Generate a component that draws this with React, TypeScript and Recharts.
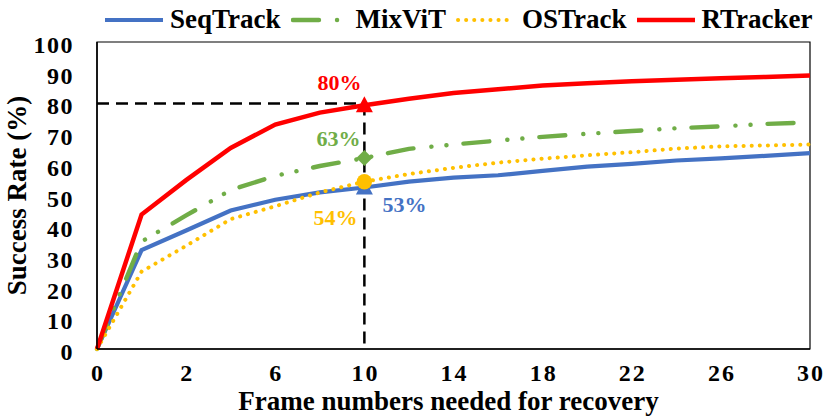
import React from 'react';
import { LineChart, Line, XAxis, YAxis, ReferenceLine, ReferenceArea, Legend, Label } from 'recharts';

const frames = [0, 1, 2, 4, 6, 8, 10, 12, 14, 16, 18, 20, 22, 24, 26, 28, 30];
const seqTrack = [0, 32.2, 38.6, 45.1, 48.6, 51.0, 52.6, 54.5, 55.8, 56.6, 58.0, 59.4, 60.3, 61.4, 62.1, 62.9, 63.8];
const mixViT = [0, 35.0, 43.5, 51.8, 56.4, 59.6, 62.2, 65.2, 66.6, 67.9, 69.1, 70.1, 71.0, 71.9, 72.5, 73.3, 73.8];
const osTrack = [0, 25.2, 33.6, 42.3, 46.5, 51.0, 54.5, 57.0, 59.0, 60.7, 62.0, 63.1, 64.1, 65.3, 66.0, 66.3, 66.6];
const rTracker = [0, 43.8, 55.0, 65.5, 73.1, 77.0, 79.4, 81.5, 83.4, 84.6, 85.8, 86.6, 87.2, 87.7, 88.2, 88.6, 89.1];
const yTicks = [0, 10, 20, 30, 40, 50, 60, 70, 80, 90, 100];
const highlightFrame = 10;
const highlightRate = 80;
const labelTexts = { SeqTrack: '53%', MixViT: '63%', OSTrack: '54%', RTracker: '80%' };

const data = frames.map((f, i) => ({
  frame: f,
  SeqTrack: seqTrack[i],
  MixViT: mixViT[i],
  OSTrack: osTrack[i],
  RTracker: rTracker[i],
}));

const FONT = "'Liberation Serif', 'Times New Roman', serif";

type SeriesStyle = {
  key: 'SeqTrack' | 'MixViT' | 'OSTrack' | 'RTracker';
  color: string;
  width: number;
  dash?: string;
  cap: 'round' | 'butt';
  marker: 'triangle' | 'diamond' | 'circle';
  labelDx: number;
  labelDy: number;
  legendWidth: number;
  legendTextGap: number;
};

const series: SeriesStyle[] = [
  { key: 'SeqTrack', color: '#4472C4', width: 4.2, cap: 'butt', marker: 'triangle', labelDx: 40, labelDy: 17, legendWidth: 58, legendTextGap: 7 },
  { key: 'MixViT', color: '#70AD47', width: 4.4, dash: '26 18 0.1 15 0.1 17', cap: 'round', marker: 'diamond', labelDx: -26, labelDy: -20, legendWidth: 50, legendTextGap: 15 },
  { key: 'OSTrack', color: '#FFC000', width: 4, dash: '0.1 8', cap: 'round', marker: 'circle', labelDx: -29, labelDy: 36, legendWidth: 59, legendTextGap: 7 },
  { key: 'RTracker', color: '#FF0000', width: 4.5, cap: 'butt', marker: 'triangle', labelDx: -25, labelDy: -23, legendWidth: 58, legendTextGap: 7 },
];

const makeDot = (s: SeriesStyle) => (props: any) => {
  const { cx, cy, index } = props;
  const k = `dot-${s.key}-${index}`;
  if (frames[index] !== highlightFrame || cx == null || cy == null) return <g key={k} />;
  let shape: React.ReactNode;
  if (s.marker === 'triangle') {
    shape = <polygon points={`${cx},${cy - 9} ${cx - 8.5},${cy + 7} ${cx + 8.5},${cy + 7}`} fill={s.color} />;
  } else if (s.marker === 'diamond') {
    shape = <polygon points={`${cx},${cy - 8} ${cx + 8},${cy} ${cx},${cy + 8} ${cx - 8},${cy}`} fill={s.color} />;
  } else {
    shape = <circle cx={cx} cy={cy} r={7.7} fill={s.color} />;
  }
  return (
    <g key={k}>
      {shape}
      <text
        x={cx + s.labelDx}
        y={cy + s.labelDy + 7.5}
        textAnchor="middle"
        style={{ fontFamily: FONT, fontWeight: 'bold', fontSize: 22 }}
        fill={s.color}
      >
        {labelTexts[s.key]}
      </text>
    </g>
  );
};

const YTick = (props: any) => {
  const { x, y, payload } = props;
  return (
    <text x={x} y={y + 11} textAnchor="end" style={{ fontFamily: FONT, fontWeight: 'bold', fontSize: 24, letterSpacing: 1.5 }} fill="#000">
      {payload.value}
    </text>
  );
};

const XTick = (props: any) => {
  const { x, y, payload } = props;
  return (
    <text x={x + 1} y={y + 24} textAnchor="middle" style={{ fontFamily: FONT, fontWeight: 'bold', fontSize: 24, letterSpacing: 2 }} fill="#000">
      {payload.value}
    </text>
  );
};

const LegendContent = (props: any) => {
  const payload: any[] = props.payload || [];
  const items = series.filter((s) => payload.some((p) => p.value === s.key));
  return (
    <div style={{ display: 'flex', alignItems: 'center', height: 24, paddingTop: 8, paddingLeft: 105, fontFamily: FONT }}>
      {items.map((s) => (
        <div key={s.key} style={{ display: 'flex', alignItems: 'center', marginRight: 10 }}>
          <svg width={s.legendWidth} height={24} style={{ display: 'block' }}>
            <line
              x1={s.cap === 'round' ? 2 : 0}
              y1={12}
              x2={s.legendWidth - (s.cap === 'round' ? 2 : 0)}
              y2={12}
              stroke={s.color}
              strokeWidth={s.width}
              strokeDasharray={s.dash}
              strokeLinecap={s.cap}
            />
          </svg>
          <span style={{ marginLeft: s.legendTextGap, fontSize: 27, fontWeight: 'bold', lineHeight: '22px', position: 'relative', top: -1, color: '#000' }}>
            {s.key}
          </span>
        </div>
      ))}
    </div>
  );
};

export default function App() {
  return (
    <div>
      <style>{`body{margin:0;}`}</style>
      <LineChart width={830} height={417} data={data} margin={{ top: 42, right: 20, bottom: 28, left: 0 }}>
        <XAxis
          dataKey="frame"
          type="category"
          interval={1}
          tickLine={false}
          axisLine={{ stroke: '#000', strokeWidth: 1.5 }}
          tick={<XTick />}
          height={40}
          padding={{ left: 0, right: 0 }}
        >
          <Label
            content={(p: any) => {
              const vb = p.viewBox;
              return (
                <text x={vb.x + vb.width / 2 - 5} y={vb.y + 61} textAnchor="middle" style={{ fontFamily: FONT, fontWeight: 'bold', fontSize: 27 }} fill="#000">
                  Frame numbers needed for recovery
                </text>
              );
            }}
          />
        </XAxis>
        <YAxis
          domain={[0, 100]}
          ticks={yTicks}
          tickLine={false}
          tickMargin={17}
          axisLine={{ stroke: '#000', strokeWidth: 1.5 }}
          tick={<YTick />}
          width={97}
          interval={0}
        >
          <Label
            content={(p: any) => {
              const vb = p.viewBox;
              const cy = vb.y + vb.height / 2;
              return (
                <text x={26} y={cy} transform={`rotate(-90, 26, ${cy})`} textAnchor="middle" style={{ fontFamily: FONT, fontWeight: 'bold', fontSize: 27 }} fill="#000">
                  Success Rate (%)
                </text>
              );
            }}
          />
        </YAxis>
        <ReferenceArea x1={0} x2={30} y1={0} y2={100} fill="none" stroke="#000" strokeWidth={1.2} />
        <ReferenceLine
          segment={[{ x: 0, y: highlightRate }, { x: highlightFrame, y: highlightRate }]}
          stroke="#000"
          strokeWidth={2.5}
          strokeDasharray="12 7"
        />
        <ReferenceLine
          segment={[{ x: highlightFrame, y: highlightRate }, { x: highlightFrame, y: 0 }]}
          stroke="#000"
          strokeWidth={2.5}
          strokeDasharray="12 7"
        />
        <Legend
          verticalAlign="middle"
          align="center"
          layout="horizontal"
          wrapperStyle={{ top: 0, left: 0, width: 830 }}
          content={<LegendContent />}
        />
        {series.map((s) => (
          <Line
            key={s.key}
            dataKey={s.key}
            name={s.key}
            type="linear"
            stroke={s.color}
            strokeWidth={s.width}
            strokeDasharray={s.dash}
            strokeLinecap={s.cap}
            dot={makeDot(s)}
            activeDot={false}
            isAnimationActive={false}
          />
        ))}
      </LineChart>
    </div>
  );
}
